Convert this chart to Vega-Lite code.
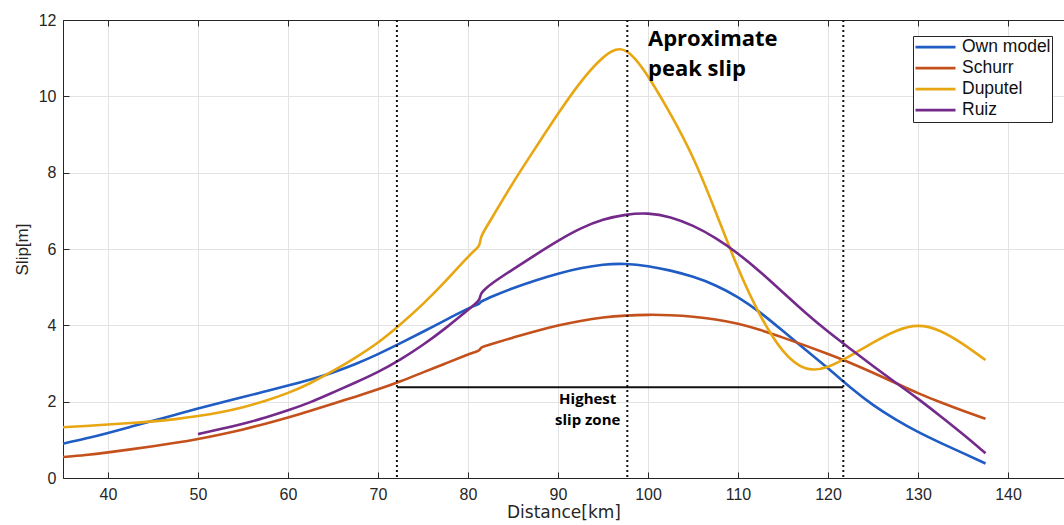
{
  "$schema": "https://vega.github.io/schema/vega-lite/v6.json",
  "width": 1001,
  "height": 458,
  "autosize": {"type": "none"},
  "padding": {"left": 63, "top": 20, "right": 0, "bottom": 47},
  "background": "white",
  "config": {
    "view": {"stroke": null},
    "font": "Liberation Sans",
    "axis": {
      "gridColor": "#e3e3e3",
      "gridWidth": 1,
      "domainColor": "#262626",
      "tickColor": "#262626",
      "labelColor": "#262626",
      "titleColor": "#262626",
      "labelFont": "Liberation Sans",
      "titleFont": "Liberation Sans",
      "labelFontSize": 16,
      "titleFontSize": 17,
      "titleFontWeight": "normal"
    }
  },
  "resolve": {"axis": {"x": "independent"}},
  "datasets": {
    "curves": [
      {"series": "Own model", "x": 35, "y": 0.9},
      {"series": "Own model", "x": 37.5, "y": 1.03},
      {"series": "Own model", "x": 40, "y": 1.18},
      {"series": "Own model", "x": 42.5, "y": 1.34},
      {"series": "Own model", "x": 45, "y": 1.5},
      {"series": "Own model", "x": 47.5, "y": 1.66},
      {"series": "Own model", "x": 50, "y": 1.82},
      {"series": "Own model", "x": 52.5, "y": 1.97},
      {"series": "Own model", "x": 55, "y": 2.12},
      {"series": "Own model", "x": 57.5, "y": 2.27},
      {"series": "Own model", "x": 60, "y": 2.42},
      {"series": "Own model", "x": 62.5, "y": 2.58},
      {"series": "Own model", "x": 65, "y": 2.76},
      {"series": "Own model", "x": 67.5, "y": 2.98},
      {"series": "Own model", "x": 70, "y": 3.24},
      {"series": "Own model", "x": 72.5, "y": 3.53},
      {"series": "Own model", "x": 75, "y": 3.83},
      {"series": "Own model", "x": 77.5, "y": 4.14},
      {"series": "Own model", "x": 80, "y": 4.44},
      {"series": "Own model", "x": 80.8, "y": 4.52},
      {"series": "Own model", "x": 81.3, "y": 4.57},
      {"series": "Own model", "x": 81.4, "y": 4.62},
      {"series": "Own model", "x": 81.9, "y": 4.67},
      {"series": "Own model", "x": 82.5, "y": 4.74},
      {"series": "Own model", "x": 85, "y": 4.98},
      {"series": "Own model", "x": 87.5, "y": 5.18},
      {"series": "Own model", "x": 90, "y": 5.36},
      {"series": "Own model", "x": 92.5, "y": 5.5},
      {"series": "Own model", "x": 95, "y": 5.6},
      {"series": "Own model", "x": 97.5, "y": 5.62},
      {"series": "Own model", "x": 100, "y": 5.56},
      {"series": "Own model", "x": 102.5, "y": 5.44},
      {"series": "Own model", "x": 105, "y": 5.28},
      {"series": "Own model", "x": 107.5, "y": 5.06},
      {"series": "Own model", "x": 110, "y": 4.75},
      {"series": "Own model", "x": 112.5, "y": 4.34},
      {"series": "Own model", "x": 115, "y": 3.85},
      {"series": "Own model", "x": 117.5, "y": 3.36},
      {"series": "Own model", "x": 120, "y": 2.88},
      {"series": "Own model", "x": 122.5, "y": 2.36},
      {"series": "Own model", "x": 125, "y": 1.9},
      {"series": "Own model", "x": 127.5, "y": 1.53},
      {"series": "Own model", "x": 130, "y": 1.2},
      {"series": "Own model", "x": 132.5, "y": 0.92},
      {"series": "Own model", "x": 135, "y": 0.65},
      {"series": "Own model", "x": 137.5, "y": 0.38},
      {"series": "Schurr", "x": 35, "y": 0.55},
      {"series": "Schurr", "x": 37.5, "y": 0.6},
      {"series": "Schurr", "x": 40, "y": 0.67},
      {"series": "Schurr", "x": 42.5, "y": 0.75},
      {"series": "Schurr", "x": 45, "y": 0.83},
      {"series": "Schurr", "x": 47.5, "y": 0.92},
      {"series": "Schurr", "x": 50, "y": 1.02},
      {"series": "Schurr", "x": 52.5, "y": 1.14},
      {"series": "Schurr", "x": 55, "y": 1.27},
      {"series": "Schurr", "x": 57.5, "y": 1.42},
      {"series": "Schurr", "x": 60, "y": 1.58},
      {"series": "Schurr", "x": 62.5, "y": 1.76},
      {"series": "Schurr", "x": 65, "y": 1.95},
      {"series": "Schurr", "x": 67.5, "y": 2.13},
      {"series": "Schurr", "x": 70, "y": 2.32},
      {"series": "Schurr", "x": 72.5, "y": 2.53},
      {"series": "Schurr", "x": 75, "y": 2.77},
      {"series": "Schurr", "x": 77.5, "y": 3.0},
      {"series": "Schurr", "x": 80, "y": 3.24},
      {"series": "Schurr", "x": 80.8, "y": 3.3},
      {"series": "Schurr", "x": 81.3, "y": 3.34},
      {"series": "Schurr", "x": 81.4, "y": 3.42},
      {"series": "Schurr", "x": 81.9, "y": 3.46},
      {"series": "Schurr", "x": 82.5, "y": 3.5},
      {"series": "Schurr", "x": 85, "y": 3.68},
      {"series": "Schurr", "x": 87.5, "y": 3.85},
      {"series": "Schurr", "x": 90, "y": 4.0},
      {"series": "Schurr", "x": 92.5, "y": 4.12},
      {"series": "Schurr", "x": 95, "y": 4.21},
      {"series": "Schurr", "x": 97.5, "y": 4.26},
      {"series": "Schurr", "x": 100, "y": 4.28},
      {"series": "Schurr", "x": 102.5, "y": 4.27},
      {"series": "Schurr", "x": 105, "y": 4.23},
      {"series": "Schurr", "x": 107.5, "y": 4.16},
      {"series": "Schurr", "x": 110, "y": 4.05},
      {"series": "Schurr", "x": 112.5, "y": 3.88},
      {"series": "Schurr", "x": 115, "y": 3.68},
      {"series": "Schurr", "x": 117.5, "y": 3.47},
      {"series": "Schurr", "x": 120, "y": 3.25},
      {"series": "Schurr", "x": 122.5, "y": 3.02},
      {"series": "Schurr", "x": 125, "y": 2.76},
      {"series": "Schurr", "x": 127.5, "y": 2.49},
      {"series": "Schurr", "x": 130, "y": 2.22},
      {"series": "Schurr", "x": 132.5, "y": 1.98},
      {"series": "Schurr", "x": 135, "y": 1.76},
      {"series": "Schurr", "x": 137.5, "y": 1.55},
      {"series": "Duputel", "x": 35, "y": 1.33},
      {"series": "Duputel", "x": 37.5, "y": 1.36},
      {"series": "Duputel", "x": 40, "y": 1.4},
      {"series": "Duputel", "x": 42.5, "y": 1.44},
      {"series": "Duputel", "x": 45, "y": 1.48},
      {"series": "Duputel", "x": 47.5, "y": 1.54},
      {"series": "Duputel", "x": 50, "y": 1.62},
      {"series": "Duputel", "x": 52.5, "y": 1.72},
      {"series": "Duputel", "x": 55, "y": 1.85},
      {"series": "Duputel", "x": 57.5, "y": 2.02},
      {"series": "Duputel", "x": 60, "y": 2.22},
      {"series": "Duputel", "x": 62.5, "y": 2.48},
      {"series": "Duputel", "x": 65, "y": 2.8},
      {"series": "Duputel", "x": 67.5, "y": 3.15},
      {"series": "Duputel", "x": 70, "y": 3.53},
      {"series": "Duputel", "x": 72.5, "y": 4.02},
      {"series": "Duputel", "x": 75, "y": 4.55},
      {"series": "Duputel", "x": 77.5, "y": 5.15},
      {"series": "Duputel", "x": 80, "y": 5.8},
      {"series": "Duputel", "x": 80.8, "y": 5.98},
      {"series": "Duputel", "x": 81.3, "y": 6.07},
      {"series": "Duputel", "x": 81.4, "y": 6.32},
      {"series": "Duputel", "x": 81.9, "y": 6.52},
      {"series": "Duputel", "x": 82.5, "y": 6.75},
      {"series": "Duputel", "x": 85, "y": 7.75},
      {"series": "Duputel", "x": 87.5, "y": 8.65},
      {"series": "Duputel", "x": 90, "y": 9.55},
      {"series": "Duputel", "x": 92.5, "y": 10.4},
      {"series": "Duputel", "x": 95, "y": 11.05},
      {"series": "Duputel", "x": 96.5, "y": 11.26},
      {"series": "Duputel", "x": 97.5, "y": 11.22},
      {"series": "Duputel", "x": 98.5, "y": 11.02},
      {"series": "Duputel", "x": 100, "y": 10.55},
      {"series": "Duputel", "x": 102.5, "y": 9.55},
      {"series": "Duputel", "x": 105, "y": 8.45},
      {"series": "Duputel", "x": 107.5, "y": 7.0},
      {"series": "Duputel", "x": 110, "y": 5.45},
      {"series": "Duputel", "x": 112.5, "y": 4.2},
      {"series": "Duputel", "x": 115, "y": 3.25},
      {"series": "Duputel", "x": 117.5, "y": 2.78},
      {"series": "Duputel", "x": 120, "y": 2.88},
      {"series": "Duputel", "x": 122.5, "y": 3.2},
      {"series": "Duputel", "x": 125, "y": 3.55},
      {"series": "Duputel", "x": 127.5, "y": 3.87},
      {"series": "Duputel", "x": 130, "y": 4.04},
      {"series": "Duputel", "x": 132.5, "y": 3.88},
      {"series": "Duputel", "x": 135, "y": 3.52},
      {"series": "Duputel", "x": 137.5, "y": 3.09},
      {"series": "Ruiz", "x": 50, "y": 1.15},
      {"series": "Ruiz", "x": 52.5, "y": 1.28},
      {"series": "Ruiz", "x": 55, "y": 1.42},
      {"series": "Ruiz", "x": 57.5, "y": 1.58},
      {"series": "Ruiz", "x": 60, "y": 1.77},
      {"series": "Ruiz", "x": 62.5, "y": 1.98},
      {"series": "Ruiz", "x": 65, "y": 2.24},
      {"series": "Ruiz", "x": 67.5, "y": 2.5},
      {"series": "Ruiz", "x": 70, "y": 2.77},
      {"series": "Ruiz", "x": 72.5, "y": 3.1},
      {"series": "Ruiz", "x": 75, "y": 3.48},
      {"series": "Ruiz", "x": 77.5, "y": 3.92},
      {"series": "Ruiz", "x": 80, "y": 4.4},
      {"series": "Ruiz", "x": 80.8, "y": 4.56},
      {"series": "Ruiz", "x": 81.3, "y": 4.66},
      {"series": "Ruiz", "x": 81.4, "y": 4.84},
      {"series": "Ruiz", "x": 81.9, "y": 4.95},
      {"series": "Ruiz", "x": 82.5, "y": 5.08},
      {"series": "Ruiz", "x": 85, "y": 5.47},
      {"series": "Ruiz", "x": 87.5, "y": 5.85},
      {"series": "Ruiz", "x": 90, "y": 6.22},
      {"series": "Ruiz", "x": 92.5, "y": 6.55},
      {"series": "Ruiz", "x": 95, "y": 6.78},
      {"series": "Ruiz", "x": 97.5, "y": 6.91},
      {"series": "Ruiz", "x": 100, "y": 6.95},
      {"series": "Ruiz", "x": 102.5, "y": 6.85},
      {"series": "Ruiz", "x": 105, "y": 6.62},
      {"series": "Ruiz", "x": 107.5, "y": 6.3},
      {"series": "Ruiz", "x": 110, "y": 5.89},
      {"series": "Ruiz", "x": 112.5, "y": 5.4},
      {"series": "Ruiz", "x": 115, "y": 4.86},
      {"series": "Ruiz", "x": 117.5, "y": 4.32},
      {"series": "Ruiz", "x": 120, "y": 3.83},
      {"series": "Ruiz", "x": 122.5, "y": 3.38},
      {"series": "Ruiz", "x": 125, "y": 2.93},
      {"series": "Ruiz", "x": 127.5, "y": 2.5},
      {"series": "Ruiz", "x": 130, "y": 2.08},
      {"series": "Ruiz", "x": 132.5, "y": 1.62},
      {"series": "Ruiz", "x": 135, "y": 1.15},
      {"series": "Ruiz", "x": 137.5, "y": 0.65}
    ],
    "vlines": [{"x": 72.1}, {"x": 97.7}, {"x": 121.7}],
    "hline": [{"x": 72.1, "x2": 121.7, "y": 2.38}],
    "notes": [
      {"x": 100, "y": 11.31, "text": ["Aproximate", "peak slip"], "kind": "big"},
      {"x": 93.3, "y": 1.95, "text": ["Highest", "slip zone"], "kind": "small"}
    ]
  },
  "layer": [
    {
      "data": {"name": "curves"},
      "mark": {"type": "line", "strokeWidth": 2.6, "interpolate": "basis"},
      "encoding": {
        "x": {
          "field": "x", "type": "quantitative",
          "scale": {"domain": [35, 146.22], "nice": false, "zero": false},
          "axis": {"orient": "bottom", "values": [40, 50, 60, 70, 80, 90, 100, 110, 120, 130, 140], "grid": true, "tickSize": -6, "labelPadding": 14, "title": "Distance[km]", "titleFont": "DejaVu Sans", "titlePadding": 2}
        },
        "y": {
          "field": "y", "type": "quantitative",
          "scale": {"domain": [0, 12], "nice": false},
          "axis": {"values": [0, 2, 4, 6, 8, 10, 12], "grid": true, "tickSize": -6, "labelPadding": 13, "title": "Slip[m]", "titlePadding": 7}
        },
        "color": {
          "field": "series", "type": "nominal",
          "scale": {"domain": ["Own model", "Schurr", "Duputel", "Ruiz"], "range": ["#1f5cc4", "#c4501c", "#e8a712", "#742a8a"]},
          "legend": {
            "orient": "none", "legendX": 850, "legendY": 16, "title": null,
            "symbolType": "stroke", "symbolStrokeWidth": 2.6, "symbolSize": 1600,
            "labelFontSize": 17.5, "labelColor": "#111111", "labelFont": "Liberation Sans",
            "strokeColor": "#262626", "fillColor": "white", "padding": 1, "rowPadding": 0, "clipHeight": 20.3, "labelOffset": 5
          }
        }
      }
    },
    {
      "data": {"name": "vlines"},
      "mark": {"type": "rule", "color": "#111111", "strokeWidth": 2, "strokeDash": [2, 3]},
      "encoding": {
        "x": {"field": "x", "type": "quantitative", "axis": {"orient": "top", "values": [40, 50, 60, 70, 80, 90, 100, 110, 120, 130, 140], "labels": false, "grid": false, "ticks": true, "tickSize": -6, "title": null}}
      }
    },
    {
      "data": {"name": "hline"},
      "mark": {"type": "rule", "color": "#111111", "strokeWidth": 2},
      "encoding": {
        "x": {"field": "x", "type": "quantitative", "axis": null},
        "x2": {"field": "x2"},
        "y": {"field": "y", "type": "quantitative"}
      }
    },
    {
      "data": {"name": "notes"},
      "transform": [{"filter": "datum.kind == 'big'"}],
      "mark": {"type": "text", "font": "Open Sans", "fontWeight": "bold", "fontSize": 22, "align": "left", "baseline": "alphabetic", "lineHeight": 30, "color": "#000000"},
      "encoding": {
        "x": {"field": "x", "type": "quantitative", "axis": null},
        "y": {"field": "y", "type": "quantitative"},
        "text": {"field": "text"}
      }
    },
    {
      "data": {"name": "notes"},
      "transform": [{"filter": "datum.kind == 'small'"}],
      "mark": {"type": "text", "font": "Open Sans", "fontWeight": "bold", "fontSize": 15, "align": "center", "baseline": "alphabetic", "lineHeight": 21, "color": "#000000"},
      "encoding": {
        "x": {"field": "x", "type": "quantitative", "axis": null},
        "y": {"field": "y", "type": "quantitative"},
        "text": {"field": "text"}
      }
    }
  ]
}
